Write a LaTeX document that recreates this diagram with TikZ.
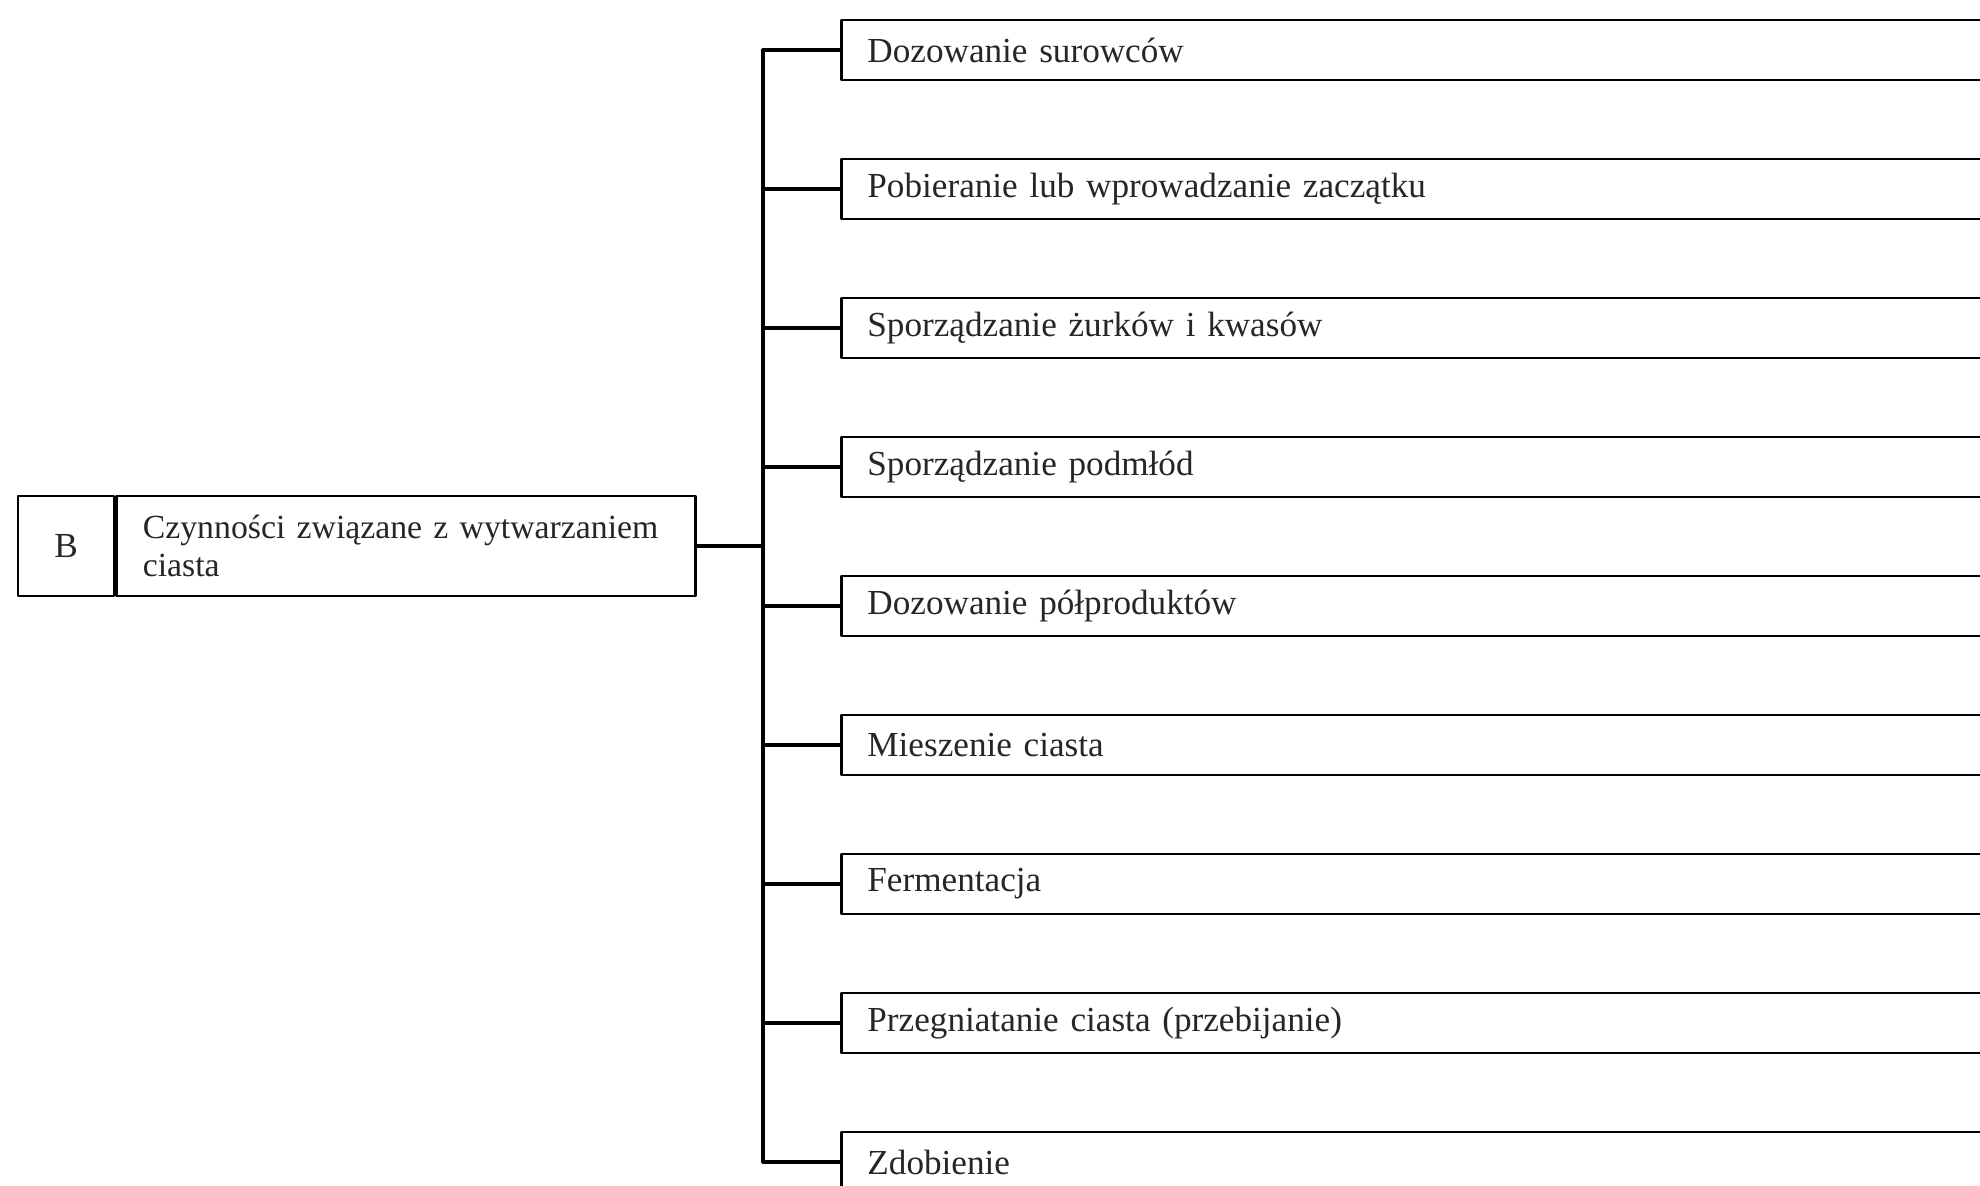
\documentclass[tikz,border=0pt]{standalone}
\usepackage{fontspec}
\setmainfont{Liberation Serif}
\begin{document}
\begin{tikzpicture}[x=0.01cm,y=-0.01cm,line join=round,line cap=round,
		font=\fontsize{10}{11}\selectfont,
		kratka/.style={draw,line width=0.8pt,rectangle,inner sep=0pt,text=black!85},
		czynnosc/.style={kratka,anchor=west,minimum height=0.6cm,text width=11.6cm,inner xsep=0.26cm,align=left},
		lacznik/.style={line width=0.9pt}]
	\clip (0,0) rectangle (1980,1186);
	% lewa kratka
	\node[kratka,minimum width=0.96cm,minimum height=1cm] (litera) at (66,546) {B};
	\node[kratka,anchor=west,minimum height=1cm,text width=5.26cm,inner xsep=0.26cm,align=left,
		font=\fontsize{9.6}{11}\selectfont] (glowny) at (litera.east) {Czynności związane z wytwarzaniem\\ciasta};
	% czynnosci
	\foreach \napis [count=\i] in {Dozowanie surowców,Pobieranie lub wprowadzanie zaczątku,Sporządzanie żurków i kwasów,Sporządzanie podmłód,Dozowanie półproduktów,Mieszenie ciasta,Fermentacja,Przegniatanie ciasta (przebijanie),Zdobienie}{
		\node[czynnosc] (c\i) at (840,{50+139*(\i-1)}) {\napis};}
	\coordinate (pien) at (763,548);
	\draw[lacznik] (glowny.east) -- (glowny.east -| pien);
	\draw[lacznik] (pien |- c1.west) -- (pien |- c9.west);
	\foreach \i in {1,...,9}{
		\draw[lacznik] (c\i.west) -- (c\i.west -| pien);}
\end{tikzpicture}
\end{document}
